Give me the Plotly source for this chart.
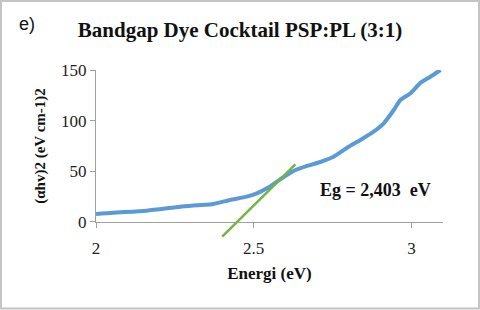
import plotly.graph_objects as go

energy = [2.0, 2.054, 2.161, 2.267, 2.32, 2.372, 2.425, 2.478, 2.51, 2.542, 2.584, 2.626,
          2.669, 2.711, 2.753, 2.796, 2.838, 2.88, 2.912, 2.944, 2.965, 2.997, 3.029, 3.06, 3.092]
absorb = [7.9, 9.2, 11.2, 15.1, 16.5, 17.8, 21.7, 25.0, 28.3, 33.2, 42.1, 50.3,
          55.3, 59.2, 64.4, 73.3, 80.9, 89.1, 97.4, 110.5, 120.4, 127.0, 137.5, 143.4, 150.0]
fit_x = [2.40, 2.632]
fit_y = [-14.5, 56.9]
x_ticks = [2, 2.5, 3]
y_ticks = [0, 50, 100, 150]

serif = "Liberation Serif, Times New Roman, serif"

# geometry (pixels)
L, R, T, B = 96, 37, 70, 72
box_h = 310 - T - B
y_lo = -15.8  # extra space below y=0 for the tangent line
d = -y_lo / (150 - y_lo)

fig = go.Figure()
fig.add_trace(go.Scatter(x=energy, y=absorb, mode="lines",
                         line=dict(color="#5b9bd5", width=4, shape="spline", smoothing=0.6),
                         showlegend=False, xaxis="x", yaxis="y"))
fig.add_trace(go.Scatter(x=fit_x, y=fit_y, mode="lines",
                         line=dict(color="#74b442", width=2.5), showlegend=False,
                         xaxis="x2", yaxis="y2"))

axis_common = dict(showgrid=False, zeroline=False, showline=True, linecolor="#a0a0a0",
                   linewidth=1, ticks="outside", ticklen=5, tickcolor="#a0a0a0",
                   tickfont=dict(size=17, color="#222"), automargin=False)

fig.update_layout(
    width=480, height=310,
    margin=dict(l=L, r=R, t=T, b=B),
    paper_bgcolor="white", plot_bgcolor="rgba(0,0,0,0)",
    font=dict(family=serif, color="#222"),
    title=dict(text="<b>Bandgap Dye Cocktail PSP:PL (3:1)</b>", x=0.5, xref="container",
               xanchor="center", y=1 - 30 / 310, yref="container", yanchor="middle",
               font=dict(size=21, color="#111")),
    xaxis=dict(range=[2, 3.1], tickvals=x_ticks, ticktext=["2", "2.5", "3"], anchor="y",
               ticklabelstandoff=6,
               title=dict(text="<b>Energi (eV)</b>", font=dict(size=17, color="#111"), standoff=9),
               **axis_common),
    yaxis=dict(range=[0, 150], tickvals=y_ticks, domain=[d, 1], anchor="x",
               title=dict(text="<b>(αhv)2 (eV cm-1)2</b>", font=dict(size=15, color="#111"), standoff=11),
               **axis_common),
    xaxis2=dict(range=[2, 3.1], overlaying="x", visible=False, anchor="y2"),
    yaxis2=dict(range=[y_lo, 150], domain=[0, 1], visible=False, anchor="x2"),
    annotations=[
        dict(text="<b>Eg = 2,403  eV</b>", x=2.886, y=31.6, xref="x", yref="y",
             showarrow=False, font=dict(size=18, color="#111"), xanchor="center", yanchor="middle"),
        dict(text="e)", x=(17 - L) / (480 - L - R), y=(310 - B - 24) / box_h,
             xref="paper", yref="paper", showarrow=False,
             font=dict(size=18, color="#111", family="Liberation Sans, Arial, sans-serif"),
             xanchor="left", yanchor="middle"),
    ],
    shapes=[dict(type="rect", xref="paper", yref="paper",
                 x0=(1 - L) / (480 - L - R), x1=(479 - L) / (480 - L - R),
                 y0=(310 - B - 308.5) / box_h, y1=(310 - B - 1) / box_h,
                 line=dict(color="#c4c4c4", width=2), fillcolor="rgba(0,0,0,0)", layer="below")],
)

fig.write_html("out.html", config={"displayModeBar": False},
               post_script="document.body.style.margin='0';document.body.style.overflow='hidden';")
